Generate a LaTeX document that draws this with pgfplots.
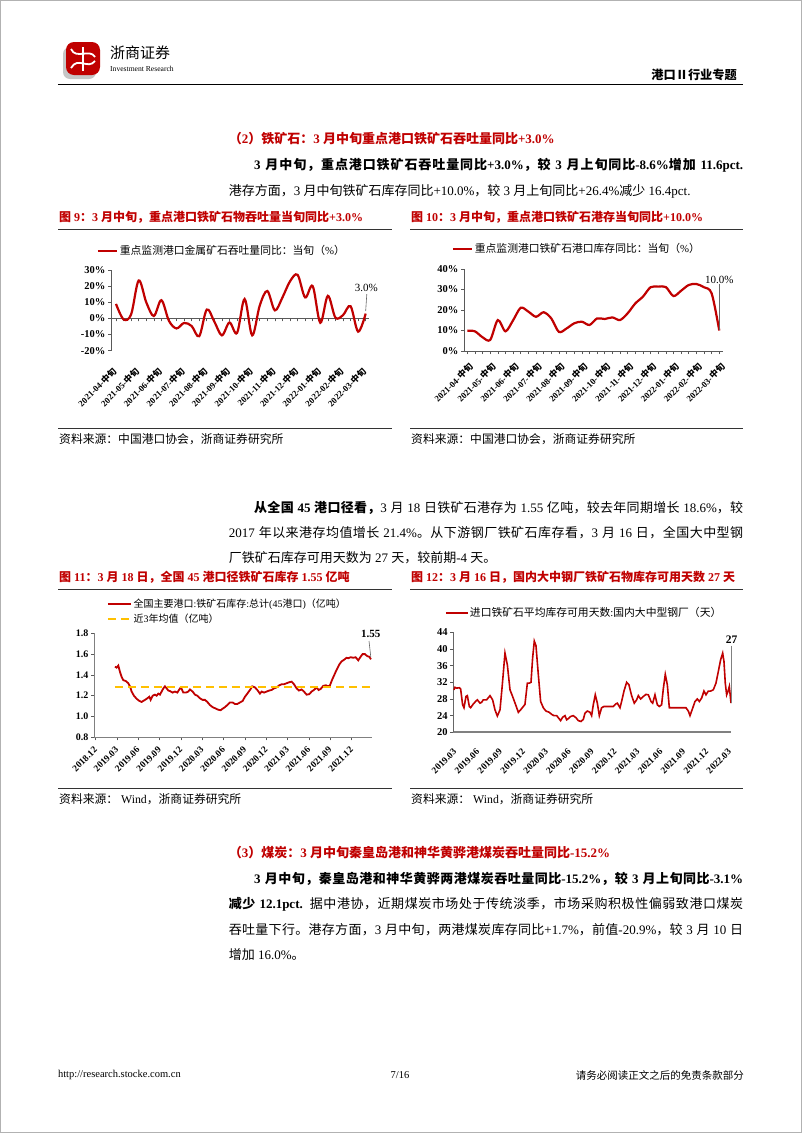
\documentclass[border=0pt]{standalone}
\usepackage{fontspec}
\usepackage{pgfplots}
\pgfplotsset{compat=1.18}
\setmainfont{Liberation Serif}
\newfontfamily\cjkfam{Noto Sans CJK SC}
\XeTeXinterchartokenstate=1
\newXeTeXintercharclass\CJKcls
\newcount\cc
\cc="4E00 \loop\XeTeXcharclass\cc=\CJKcls\ifnum\cc<"9FFF\advance\cc by 1\repeat
\cc="3000 \loop\XeTeXcharclass\cc=\CJKcls\ifnum\cc<"303F\advance\cc by 1\repeat
\cc="FF00 \loop\XeTeXcharclass\cc=\CJKcls\ifnum\cc<"FFEF\advance\cc by 1\repeat
\XeTeXcharclass"2161=\CJKcls
\def\tocjk{\cjkfam}\def\tolatin{\rmfamily}
\XeTeXinterchartoks 0 \CJKcls={\tocjk}
\XeTeXinterchartoks 4095 \CJKcls={\tocjk}
\XeTeXinterchartoks \CJKcls 0={\tolatin}
\XeTeXinterchartoks \CJKcls 4095={\tolatin}
\XeTeXinterchartoks \CJKcls \CJKcls={\hskip0pt plus 1pt\relax}
\definecolor{zsred}{RGB}{192,0,0}
\definecolor{lnred}{RGB}{192,0,0}
\definecolor{dashy}{RGB}{255,192,0}
\newcommand\ytf{\fontsize{10.5}{12}\selectfont\bfseries}
\newcommand\ytfs{\fontsize{10}{12}\selectfont\bfseries}
\newcommand\xtf{\fontsize{8.8}{10}\selectfont\bfseries}
\newcommand\xtfb{\fontsize{9.4}{11}\selectfont\bfseries}
\newcommand\lgf{\fontsize{10.8}{12}\selectfont}
\newcommand\lgfb{\fontsize{10}{12}\selectfont}
\newcommand\bodyf{\fontsize{13}{15}\selectfont}
\newcommand\titf{\fontsize{12}{14}\selectfont\bfseries}
\newcommand\srcf{\fontsize{11.8}{14}\selectfont}
\pgfplotsset{
  zsaxis/.style={scale only axis, anchor=south west, clip=false,
    axis line style={black!65, line width=0.7pt},
    tick align=outside, major tick length=3pt, minor tick length=3pt,
    tick style={black!65, line width=0.6pt},
    yticklabel style={font=\ytf, inner sep=2.5pt},
    legend cell align=left,
    legend image code/.code={\draw[##1] (0pt,0pt) -- (19.3pt,0pt);},
  },
}
\begin{document}
\begin{tikzpicture}[x=1pt,y=1pt]
\useasboundingbox (0,0) rectangle (802,-1133);
\fill[white] (0,0) rectangle (802,-1133);
\draw[gray!60,line width=1.2pt] (0.6,-0.6) rectangle (801.4,-1132.4);
% ---------- header ----------
\fill[gray!45,rounded corners=7pt] (63,-47) rectangle (96,-79);
\fill[zsred,rounded corners=8pt] (66,-42) rectangle (100,-75);
\draw[white,line width=1.8pt] (71,-49) .. controls (76,-60) and (90,-48) .. (95,-57);
\draw[white,line width=1.8pt] (71,-68) .. controls (78,-56) and (88,-70) .. (95,-61);
\draw[white,line width=1.4pt] (83,-47) -- (83,-71);
\node[anchor=west,inner sep=0] at (110,-53) {\fontsize{15}{17}\selectfont 浙商证券};
\node[anchor=west,inner sep=0] at (110,-69) {\fontsize{7.6}{9}\selectfont Investment Research};
\node[anchor=east,inner sep=0] at (737,-75) {\fontsize{12.2}{14}\selectfont\bfseries 港口Ⅱ行业专题};
\draw[black,line width=1pt] (57.8,-84.3) -- (743,-84.3);
% ---------- section 2 ----------
\node[anchor=west,inner sep=0,text=zsred] at (228.6,-139) {\bodyf\bfseries （2）铁矿石：3 月中旬重点港口铁矿石吞吐量同比+3.0\%};
\node[anchor=west,inner sep=0] at (254,-165) {\bodyf\bfseries\makebox[489pt][s]{3 月中旬，重点港口铁矿石吞吐量同比+3.0\%，较 3 月上旬同比-8.6\%增加 11.6pct.}};
\node[anchor=west,inner sep=0] at (228.6,-191) {\bodyf 港存方面，3 月中旬铁矿石库存同比+10.0\%，较 3 月上旬同比+26.4\%减少 16.4pct.};
% ---------- chart titles row 1 ----------
\node[anchor=west,inner sep=0,text=zsred] at (59,-217) {\titf 图 9：3 月中旬，重点港口铁矿石物吞吐量当旬同比+3.0\%};
\node[anchor=west,inner sep=0,text=zsred] at (411,-217) {\titf 图 10：3 月中旬，重点港口铁矿石港存当旬同比+10.0\%};
\draw[black!80,line width=0.8pt] (58.3,-229) -- (391.7,-229);
\draw[black!80,line width=0.8pt] (410,-229) -- (743,-229);
\draw[black!80,line width=0.8pt] (58.3,-428.7) -- (391.7,-428.7);
\draw[black!80,line width=0.8pt] (410,-428.7) -- (743,-428.7);
\node[anchor=west,inner sep=0] at (59,-439.3) {\srcf 资料来源：中国港口协会，浙商证券研究所};
\node[anchor=west,inner sep=0] at (411,-439.3) {\srcf 资料来源：中国港口协会，浙商证券研究所};
% ---------- chart 9 ----------
\begin{axis}[zsaxis,
  at={(111pt,-350.7pt)}, width=257.7pt, height=80.7pt,
  xmin=-0.66, xmax=33.4, ymin=-20, ymax=30,
  axis x line*=middle, axis y line*=left,
  xtick={0,3,...,33}, minor xtick={0,1,...,33},
  xticklabels={2021-04-中旬,2021-05-中旬,2021-06-中旬,2021-07-中旬,2021-08-中旬,2021-09-中旬,2021-10-中旬,2021-11-中旬,2021-12-中旬,2022-01-中旬,2022-02-中旬,2022-03-中旬},
  xticklabel style={font=\xtf, yshift=-48pt, xshift=-1pt, rotate=45, anchor=east, inner sep=0pt},
  ytick={-20,-10,0,10,20,30}, yticklabels={-20\%,-10\%,0\%,10\%,20\%,30\%},
  legend style={at={(-0.0555,1.239)}, anchor=west, draw=none, fill=none, inner sep=0pt, font=\lgf, nodes={inner sep=0pt}, column sep=1.5pt},
]
\addplot[lnred, line width=2.2pt, smooth, tension=0.55] coordinates {
(0,9.0) (1,-0.6) (2,2.5) (3,23.5) (4,10) (5,1.5) (6,11.3) (7,-1.5) (8,-6.2) (9,-2.8) (10,-4.7) (11,-11) (12,5.5) (13,-2) (14,-10.5) (15,-2.5) (16,-9) (17,12) (18,-10.5) (19,8) (20,17) (21,5) (22,13) (23,23) (24,27) (25,13) (26,20) (27,-2.7) (28,14) (29,0.5) (30,2) (31,7.6) (32,-8.2) (33,3.0)};
\addlegendentry{重点监测港口金属矿石吞吐量同比：当旬（\%）}
\draw[black!60,line width=0.6pt] (axis cs:33.15,15.1) -- (axis cs:33,4.6);
\node[font=\fontsize{11}{13}\selectfont, inner sep=0] at (axis cs:33.1,18.6) {3.0\%};
\end{axis}
% ---------- chart 10 ----------
\begin{axis}[zsaxis,
  at={(464pt,-351pt)}, width=259.1pt, height=82pt,
  xmin=-0.43, xmax=33.5, ymin=0, ymax=40,
  axis x line*=bottom, axis y line*=left,
  xtick={0,3,...,33}, minor xtick={0,1,...,33},
  xticklabels={2021-04-中旬,2021-05-中旬,2021-06-中旬,2021-07-中旬,2021-08-中旬,2021-09-中旬,2021-10-中旬,2021-11-中旬,2021-12-中旬,2022-01-中旬,2022-02-中旬,2022-03-中旬},
  xticklabel style={font=\xtf, yshift=-11pt, xshift=4pt, rotate=45, anchor=east, inner sep=0pt},
  ytick={0,10,20,30,40}, yticklabels={0\%,10\%,20\%,30\%,40\%},
  legend style={at={(-0.0475,1.244)}, anchor=west, draw=none, fill=none, inner sep=0pt, font=\lgf, nodes={inner sep=0pt}, column sep=1.5pt},
]
\addplot[lnred, line width=2.2pt, smooth, tension=0.5] coordinates {
(0,9.9) (1,9.6) (2,6.7) (3,5.4) (4,15.1) (5,9.6) (6,15) (7,21.1) (8,19.2) (9,16.7) (10,18.9) (11,15.9) (12,9.3) (13,11) (14,13.5) (15,14.3) (16,12.7) (17,15.9) (18,15.6) (19,16.4) (20,15.1) (21,18.4) (22,23.2) (23,26.5) (24,31.1) (25,31.4) (26,31.2) (27,26.8) (28,29.4) (29,32.2) (30,32.7) (31,31.1) (32,28.1) (33,10.0)};
\addlegendentry{重点监测港口铁矿石港口库存同比：当旬（\%）}
\draw[black!60,line width=0.6pt] (axis cs:33,32.7) -- (axis cs:33,10.2);
\node[font=\fontsize{11}{13}\selectfont, inner sep=0] at (axis cs:33,34.6) {10.0\%};
\end{axis}
% ---------- paragraph 2 ----------
\node[anchor=west,inner sep=0] at (254,-508) {\bodyf\makebox[489pt][s]{\bfseries 从全国 45 港口径看，\mdseries 3 月 18 日铁矿石港存为 1.55 亿吨，较去年同期增长 18.6\%，较}};
\node[anchor=west,inner sep=0] at (228.6,-533) {\bodyf\makebox[514.4pt][s]{2017 年以来港存均值增长 21.4\%。从下游钢厂铁矿石库存看，3 月 16 日，全国大中型钢}};
\node[anchor=west,inner sep=0] at (228.6,-558) {\bodyf 厂铁矿石库存可用天数为 27 天，较前期-4 天。};
% ---------- chart titles row 2 ----------
\node[anchor=west,inner sep=0,text=zsred] at (59,-577) {\titf 图 11：3 月 18 日，全国 45 港口径铁矿石库存 1.55 亿吨};
\node[anchor=west,inner sep=0,text=zsred] at (411,-577) {\titf 图 12：3 月 16 日，国内大中钢厂铁矿石物库存可用天数 27 天};
\draw[black!80,line width=0.8pt] (58.3,-589) -- (391.7,-589);
\draw[black!80,line width=0.8pt] (410,-589) -- (743,-589);
\draw[black!80,line width=0.8pt] (58.3,-788.7) -- (391.7,-788.7);
\draw[black!80,line width=0.8pt] (410,-788.7) -- (743,-788.7);
\node[anchor=west,inner sep=0] at (59,-799.3) {\srcf 资料来源： Wind，浙商证券研究所};
\node[anchor=west,inner sep=0] at (411,-799.3) {\srcf 资料来源： Wind，浙商证券研究所};
% ---------- chart 11 ----------
\begin{axis}[zsaxis,
  at={(94pt,-737.3pt)}, width=278.2pt, height=104pt,
  xmin=-0.23, xmax=38.9, ymin=0.8, ymax=1.8,
  axis x line*=bottom, axis y line*=left,
  axis line style={black!50, line width=0.7pt},
  xtick={0,3,...,36},
  xticklabels={2018.12,2019.03,2019.06,2019.09,2019.12,2020.03,2020.06,2020.09,2020.12,2021.03,2021.06,2021.09,2021.12},
  xticklabel style={font=\xtfb, yshift=-8pt, rotate=45, anchor=east, inner sep=0pt},
  ytick={0.8,1.0,1.2,1.4,1.6,1.8}, yticklabels={0.8,1.0,1.2,1.4,1.6,1.8},
  yticklabel style={font=\ytfs, inner sep=2.5pt},
  legend style={at={(0.0456,1.21)}, anchor=west, draw=none, fill=none, inner sep=0pt, font=\lgfb, nodes={inner sep=0pt}, column sep=1.5pt, row sep=5pt},
  legend image code/.code={\draw[#1] (0pt,0pt) -- (23.3pt,0pt);},
]
\addplot[lnred, line width=1.8pt] coordinates {
(2.72,1.48)(2.95,1.47)(3.19,1.49)(3.42,1.43)(3.66,1.38)(3.89,1.35)(4.27,1.34)(4.59,1.32)(4.83,1.29)(5.06,1.24)(5.39,1.20)(5.77,1.17)(6.14,1.15)(6.47,1.14)(6.70,1.15)(6.94,1.16)(7.27,1.175)(7.55,1.19)(7.74,1.16)(8.02,1.20)(8.34,1.21)(8.58,1.20)(8.81,1.22)(9.05,1.21)(9.28,1.24)(9.52,1.27)(9.75,1.29)(9.99,1.27)(10.22,1.25)(10.45,1.245)(10.83,1.23)(11.16,1.24)(11.49,1.23)(11.86,1.27)(12.10,1.265)(12.33,1.23)(12.71,1.23)(13.03,1.24)(13.27,1.26)(13.64,1.24)(13.97,1.21)(14.30,1.20)(14.67,1.175)(15.05,1.16)(15.38,1.16)(15.71,1.14)(16.08,1.11)(16.46,1.09)(16.78,1.08)(17.25,1.065)(17.58,1.06)(17.86,1.075)(18.19,1.09)(18.52,1.11)(18.89,1.135)(19.27,1.135)(19.60,1.12)(19.92,1.12)(20.30,1.135)(20.68,1.15)(21.00,1.19)(21.33,1.22)(21.71,1.255)(22.03,1.29)(22.41,1.28)(22.74,1.255)(23.11,1.22)(23.35,1.24)(23.68,1.23)(24.05,1.24)(24.43,1.25)(24.75,1.255)(25.08,1.27)(25.46,1.28)(25.83,1.30)(26.16,1.31)(26.49,1.31)(26.86,1.32)(27.24,1.33)(27.57,1.335)(27.90,1.31)(28.27,1.27)(28.60,1.25)(28.97,1.26)(29.30,1.24)(29.68,1.21)(30.05,1.215)(30.38,1.24)(30.71,1.255)(31.08,1.28)(31.36,1.255)(31.65,1.265)(32.02,1.295)(32.40,1.30)(32.72,1.29)(32.96,1.30)(33.24,1.35)(33.57,1.40)(33.90,1.45)(34.27,1.50)(34.60,1.53)(34.93,1.545)(35.30,1.565)(35.54,1.56)(35.86,1.57)(36.24,1.565)(36.57,1.57)(36.94,1.54)(37.27,1.575)(37.55,1.60)(37.88,1.60)(38.21,1.58)(38.49,1.575)(38.73,1.55)};
\addlegendentry{全国主要港口:铁矿石库存:总计(45港口)（亿吨）}
\addplot[dashy, line width=2pt, dash pattern=on 8pt off 5pt] coordinates {(2.72,1.28) (38.73,1.28)};
\addlegendentry{近3年均值（亿吨）}
\draw[black!60,line width=0.6pt] (axis cs:38.45,1.726) -- (axis cs:38.7,1.572);
\node[font=\fontsize{11}{13}\selectfont\bfseries, inner sep=0] at (axis cs:38.7,1.793) {1.55};
\end{axis}
% ---------- chart 12 ----------
\begin{axis}[zsaxis,
  at={(453.3pt,-732.3pt)}, width=278pt, height=100pt,
  xmin=-0.22, xmax=36.2, ymin=20, ymax=44,
  axis x line*=bottom, axis y line*=left,
  x axis line style={draw=gray, line width=1.8pt},
  y axis line style={draw=gray!80!black, line width=0.7pt},
  xtick={0,3,...,36}, xtick style={draw=none},
  xticklabels={2019.03,2019.06,2019.09,2019.12,2020.03,2020.06,2020.09,2020.12,2021.03,2021.06,2021.09,2021.12,2022.03},
  xticklabel style={font=\xtfb, yshift=-15pt, rotate=45, anchor=east, inner sep=0pt},
  ytick={20,24,28,32,36,40,44}, yticklabels={20,24,28,32,36,40,44},
  yticklabel style={font=\ytf, inner sep=2.5pt},
  legend style={at={(-0.03,1.196)}, anchor=west, draw=none, fill=none, inner sep=0pt, font=\lgf, nodes={inner sep=0pt}, column sep=1.5pt},
  legend image code/.code={\draw[#1] (0pt,0pt) -- (21.7pt,0pt);},
]
\addplot[lnred, line width=1.6pt] coordinates {
(-0.13,30.2)(0,30.8)(0.22,30.6)(0.57,30.7)(0.74,30.4)(1.00,26.6)(1.18,25.9)(1.44,28.6)(1.62,28.8)(1.88,26.2)(2.05,25.9)(2.40,26.8)(2.75,27.5)(2.93,27.8)(3.28,27.0)(3.49,27.2)(3.71,27.8)(4.15,27.8)(4.59,28.8)(4.93,27.8)(5.24,25.4)(5.55,23.9)(5.90,25.4)(6.20,31.4)(6.55,39.0)(6.86,36.2)(7.21,30.2)(7.55,28.6)(7.95,26.6)(8.30,24.8)(8.60,25.4)(8.95,26.2)(9.17,26.7)(9.48,31.8)(9.74,31.8)(9.96,32.0)(10.17,37.8)(10.39,41.9)(10.61,40.8)(10.92,33.8)(11.22,27.4)(11.57,25.9)(11.92,25.1)(12.36,24.8)(12.66,24.3)(12.97,24.0)(13.32,24.0)(13.54,23.5)(13.84,22.8)(14.10,23.6)(14.41,24.0)(14.63,23.0)(14.93,23.4)(15.15,23.8)(15.50,24.0)(15.85,23.5)(16.16,22.8)(16.51,22.6)(16.81,23.1)(17.03,24.6)(17.34,25.1)(17.69,24.8)(17.90,24.0)(18.12,26.6)(18.38,29.0)(18.65,27.0)(18.91,24.0)(19.21,25.9)(19.52,26.2)(19.87,26.2)(20.31,26.2)(20.74,26.2)(21.05,26.8)(21.27,27.0)(21.62,25.9)(21.83,27.4)(22.14,29.9)(22.49,32.0)(22.79,31.4)(23.14,28.8)(23.49,27.0)(23.80,27.8)(24.02,28.8)(24.32,28.0)(24.67,28.6)(25.02,29.1)(25.33,29.0)(25.68,27.4)(25.90,27.0)(26.20,29.0)(26.51,26.6)(26.77,26.2)(27.07,26.6)(27.29,30.4)(27.55,33.9)(27.82,31.4)(28.08,25.9)(28.38,25.9)(29.04,25.9)(29.69,25.9)(30.26,25.9)(30.57,25.1)(30.79,24.0)(31.14,25.8)(31.44,27.4)(31.75,28.0)(32.01,27.4)(32.31,28.2)(32.62,29.9)(32.88,29.0)(33.19,29.9)(33.49,29.9)(33.84,30.2)(34.19,31.8)(34.50,34.6)(34.80,37.4)(35.07,39.0)(35.24,37.0)(35.41,31.8)(35.59,29.0)(35.76,29.8)(35.94,31.0)(36.16,27.0)};
\addlegendentry{进口铁矿石平均库存可用天数:国内大中型钢厂（天）}
\draw[gray,line width=0.8pt] (axis cs:36.2,40.8) -- (axis cs:36.2,27.0);
\node[font=\fontsize{11.5}{13}\selectfont\bfseries, inner sep=0] at (axis cs:36.25,42.3) {27};
\end{axis}
% ---------- section 3 ----------
\node[anchor=west,inner sep=0,text=zsred] at (228.6,-853) {\bodyf\bfseries （3）煤炭：3 月中旬秦皇岛港和神华黄骅港煤炭吞吐量同比-15.2\%};
\node[anchor=west,inner sep=0] at (254,-878.5) {\bodyf\bfseries\makebox[489pt][s]{3 月中旬，秦皇岛港和神华黄骅两港煤炭吞吐量同比-15.2\%，较 3 月上旬同比-3.1\%}};
\node[anchor=west,inner sep=0] at (228.6,-904) {\bodyf\makebox[514.4pt][s]{\bfseries 减少 12.1pct.\mdseries{} 据中港协，近期煤炭市场处于传统淡季，市场采购积极性偏弱致港口煤炭}};
\node[anchor=west,inner sep=0] at (228.6,-929.5) {\bodyf\makebox[514.4pt][s]{吞吐量下行。港存方面，3 月中旬，两港煤炭库存同比+1.7\%，前值-20.9\%，较 3 月 10 日}};
\node[anchor=west,inner sep=0] at (228.6,-955) {\bodyf 增加 16.0\%。};
% ---------- footer ----------
\node[anchor=west,inner sep=0] at (57.8,-1075) {\fontsize{10.5}{12}\selectfont http://research.stocke.com.cn};
\node[inner sep=0] at (400,-1075) {\fontsize{10.5}{12}\selectfont 7/16};
\node[anchor=east,inner sep=0] at (744,-1075) {\fontsize{10.5}{12}\selectfont 请务必阅读正文之后的免责条款部分};
\end{tikzpicture}
\end{document}
